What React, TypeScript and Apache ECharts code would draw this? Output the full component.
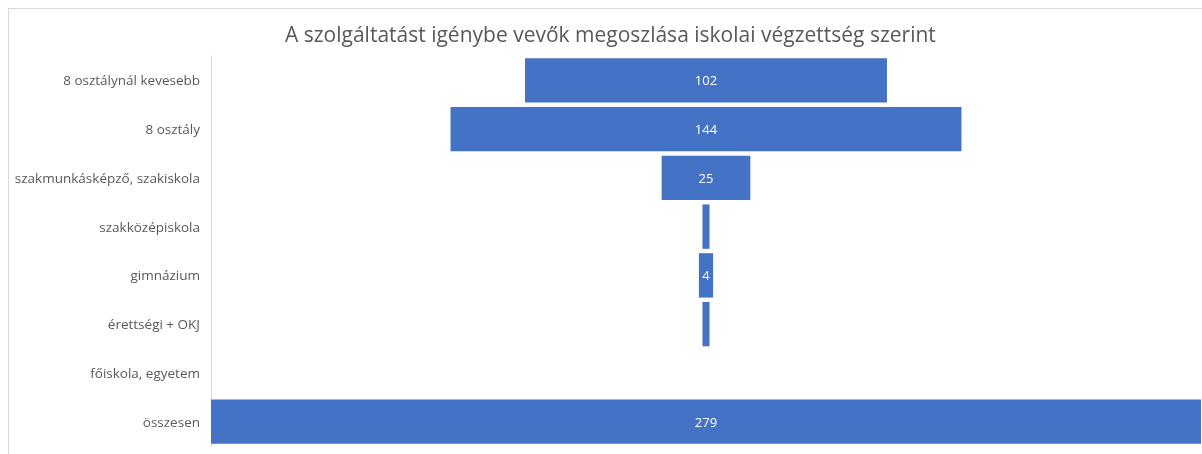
import React, { useEffect, useRef } from "react";
import * as echarts from "echarts";

const title = "A szolgáltatást igénybe vevők megoszlása iskolai végzettség szerint";
const categories = [
  "8 osztálynál kevesebb",
  "8 osztály",
  "szakmunkásképző, szakiskola",
  "szakközépiskola",
  "gimnázium",
  "érettségi + OKJ",
  "főiskola, egyetem",
  "összesen",
];
const values = [102, 144, 25, 2, 4, 2, 0, 279];

export default function App() {
  const ref = useRef<HTMLDivElement>(null);
  useEffect(() => {
    if (!ref.current) return;
    const chart = echarts.init(ref.current, null, { renderer: "svg" });
    const maxVal = Math.max(...values);
    const offsets = values.map((v) => (maxVal - v) / 2);
    chart.setOption({
      animation: false,
      title: {
        text: title,
        left: 271,
        top: 9,
        textStyle: { fontFamily: "Open Sans", fontSize: 21, fontWeight: "normal", color: "#595959" },
      },
      grid: { left: 202, right: 1, top: 47, bottom: 8, containLabel: false, outerBoundsMode: "none" },
      xAxis: { type: "value", min: 0, max: maxVal, show: false },
      yAxis: {
        type: "category",
        data: categories,
        inverse: true,
        axisLine: { show: true, lineStyle: { color: "#d9d9d9", width: 1 } },
        axisTick: { show: false },
        axisLabel: { color: "#595959", fontFamily: "Open Sans", fontSize: 13.5, margin: 11 },
      },
      series: [
        {
          type: "bar",
          stack: "f",
          data: offsets,
          itemStyle: { color: "transparent" },
          silent: true,
          barCategoryGap: "9%",
        },
        {
          type: "bar",
          stack: "f",
          data: values,
          barCategoryGap: "9%",
          itemStyle: { color: "#4472c4" },
          label: {
            show: true,
            position: "inside",
            color: "#ffffff",
            fontFamily: "Open Sans",
            fontSize: 13,
            formatter: (p: any) => (p.value >= 3 ? String(p.value) : ""),
          },
        },
      ],
    });
    return () => chart.dispose();
  }, []);
  return (
    <div
      style={{
        position: "fixed",
        left: 8,
        top: 8,
        width: 1194,
        height: 446,
        borderLeft: "1px solid #d9d9d9",
        borderTop: "1px solid #d9d9d9",
        boxSizing: "border-box",
      }}
    >
      <div ref={ref} style={{ width: 1193, height: 445 }} />
    </div>
  );
}
